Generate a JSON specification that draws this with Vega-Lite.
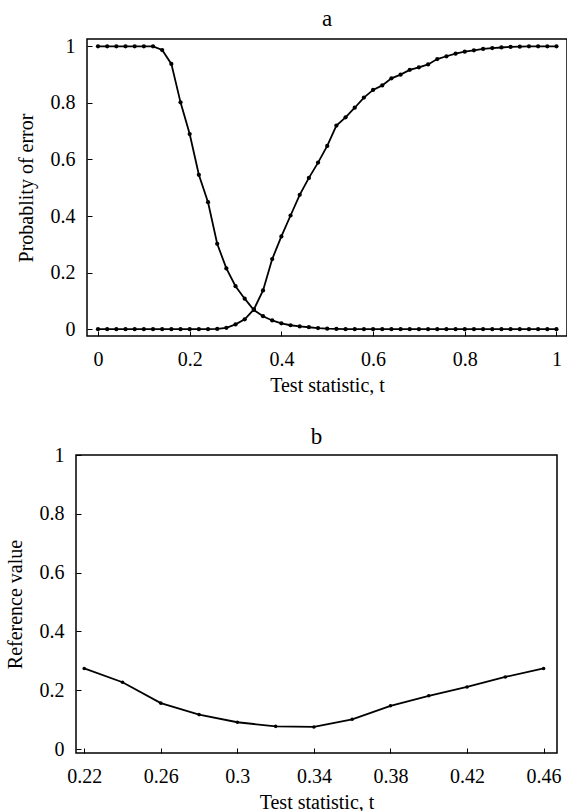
{
  "$schema": "https://vega.github.io/schema/vega-lite/v6.json",
  "background": "white",
  "padding": {"left": 0, "top": 7, "right": 0, "bottom": 0},
  "config": {
    "font": "Liberation Serif",
    "view": {"stroke": "black", "strokeWidth": 1.5},
    "axis": {
      "domain": false, "grid": false, "ticks": true, "tickSize": -5, "tickColor": "black", "tickWidth": 1,
      "labelFont": "Liberation Serif", "labelFontSize": 20, "labelColor": "black", "labelPadding": 17,
      "titleFont": "Liberation Serif", "titleFontSize": 20, "titleFontWeight": "normal", "titleColor": "black"
    },
    "title": {"font": "Liberation Serif", "fontSize": 23, "fontWeight": "normal", "color": "black", "anchor": "middle", "baseline": "alphabetic", "offset": 5}
  },
  "datasets": {
    "errors": [
      {"t": 0, "p": 1, "s": "I"}, {"t": 0.02, "p": 1, "s": "I"}, {"t": 0.04, "p": 1, "s": "I"}, {"t": 0.06, "p": 1, "s": "I"},
      {"t": 0.08, "p": 1, "s": "I"}, {"t": 0.1, "p": 1, "s": "I"}, {"t": 0.12, "p": 1, "s": "I"}, {"t": 0.14, "p": 0.987, "s": "I"},
      {"t": 0.16, "p": 0.938, "s": "I"}, {"t": 0.18, "p": 0.802, "s": "I"}, {"t": 0.2, "p": 0.69, "s": "I"}, {"t": 0.22, "p": 0.546, "s": "I"},
      {"t": 0.24, "p": 0.449, "s": "I"}, {"t": 0.26, "p": 0.302, "s": "I"}, {"t": 0.28, "p": 0.215, "s": "I"}, {"t": 0.3, "p": 0.152, "s": "I"},
      {"t": 0.32, "p": 0.108, "s": "I"}, {"t": 0.34, "p": 0.068, "s": "I"}, {"t": 0.36, "p": 0.046, "s": "I"}, {"t": 0.38, "p": 0.031, "s": "I"},
      {"t": 0.4, "p": 0.021, "s": "I"}, {"t": 0.42, "p": 0.014, "s": "I"}, {"t": 0.44, "p": 0.01, "s": "I"}, {"t": 0.46, "p": 0.007, "s": "I"},
      {"t": 0.48, "p": 0.004, "s": "I"}, {"t": 0.5, "p": 0.002, "s": "I"}, {"t": 0.52, "p": 0.001, "s": "I"}, {"t": 0.54, "p": 0, "s": "I"},
      {"t": 0.56, "p": 0, "s": "I"}, {"t": 0.58, "p": 0, "s": "I"}, {"t": 0.6, "p": 0, "s": "I"}, {"t": 0.62, "p": 0, "s": "I"},
      {"t": 0.64, "p": 0, "s": "I"}, {"t": 0.66, "p": 0, "s": "I"}, {"t": 0.68, "p": 0, "s": "I"}, {"t": 0.7, "p": 0, "s": "I"},
      {"t": 0.72, "p": 0, "s": "I"}, {"t": 0.74, "p": 0, "s": "I"}, {"t": 0.76, "p": 0, "s": "I"}, {"t": 0.78, "p": 0, "s": "I"},
      {"t": 0.8, "p": 0, "s": "I"}, {"t": 0.82, "p": 0, "s": "I"}, {"t": 0.84, "p": 0, "s": "I"}, {"t": 0.86, "p": 0, "s": "I"},
      {"t": 0.88, "p": 0, "s": "I"}, {"t": 0.9, "p": 0, "s": "I"}, {"t": 0.92, "p": 0, "s": "I"}, {"t": 0.94, "p": 0, "s": "I"},
      {"t": 0.96, "p": 0, "s": "I"}, {"t": 0.98, "p": 0, "s": "I"}, {"t": 1, "p": 0, "s": "I"},
      {"t": 0, "p": 0, "s": "II"}, {"t": 0.02, "p": 0, "s": "II"}, {"t": 0.04, "p": 0, "s": "II"}, {"t": 0.06, "p": 0, "s": "II"},
      {"t": 0.08, "p": 0, "s": "II"}, {"t": 0.1, "p": 0, "s": "II"}, {"t": 0.12, "p": 0, "s": "II"}, {"t": 0.14, "p": 0, "s": "II"},
      {"t": 0.16, "p": 0, "s": "II"}, {"t": 0.18, "p": 0, "s": "II"}, {"t": 0.2, "p": 0, "s": "II"}, {"t": 0.22, "p": 0, "s": "II"},
      {"t": 0.24, "p": 0, "s": "II"}, {"t": 0.26, "p": 0.001, "s": "II"}, {"t": 0.28, "p": 0.005, "s": "II"}, {"t": 0.3, "p": 0.017, "s": "II"},
      {"t": 0.32, "p": 0.035, "s": "II"}, {"t": 0.34, "p": 0.07, "s": "II"}, {"t": 0.36, "p": 0.137, "s": "II"}, {"t": 0.38, "p": 0.248, "s": "II"},
      {"t": 0.4, "p": 0.328, "s": "II"}, {"t": 0.42, "p": 0.402, "s": "II"}, {"t": 0.44, "p": 0.475, "s": "II"}, {"t": 0.46, "p": 0.535, "s": "II"},
      {"t": 0.48, "p": 0.589, "s": "II"}, {"t": 0.5, "p": 0.648, "s": "II"}, {"t": 0.52, "p": 0.72, "s": "II"}, {"t": 0.54, "p": 0.749, "s": "II"},
      {"t": 0.56, "p": 0.783, "s": "II"}, {"t": 0.58, "p": 0.819, "s": "II"}, {"t": 0.6, "p": 0.846, "s": "II"}, {"t": 0.62, "p": 0.862, "s": "II"},
      {"t": 0.64, "p": 0.887, "s": "II"}, {"t": 0.66, "p": 0.9, "s": "II"}, {"t": 0.68, "p": 0.917, "s": "II"}, {"t": 0.7, "p": 0.926, "s": "II"},
      {"t": 0.72, "p": 0.936, "s": "II"}, {"t": 0.74, "p": 0.955, "s": "II"}, {"t": 0.76, "p": 0.965, "s": "II"}, {"t": 0.78, "p": 0.974, "s": "II"},
      {"t": 0.8, "p": 0.981, "s": "II"}, {"t": 0.82, "p": 0.986, "s": "II"}, {"t": 0.84, "p": 0.991, "s": "II"}, {"t": 0.86, "p": 0.994, "s": "II"},
      {"t": 0.88, "p": 0.996, "s": "II"}, {"t": 0.9, "p": 0.998, "s": "II"}, {"t": 0.92, "p": 0.999, "s": "II"}, {"t": 0.94, "p": 1, "s": "II"},
      {"t": 0.96, "p": 1, "s": "II"}, {"t": 0.98, "p": 1, "s": "II"}, {"t": 1, "p": 1, "s": "II"}
    ],
    "reference": [
      {"t": 0.22, "r": 0.274}, {"t": 0.24, "r": 0.227}, {"t": 0.26, "r": 0.156}, {"t": 0.28, "r": 0.117},
      {"t": 0.3, "r": 0.091}, {"t": 0.32, "r": 0.077}, {"t": 0.34, "r": 0.075}, {"t": 0.36, "r": 0.101},
      {"t": 0.38, "r": 0.147}, {"t": 0.4, "r": 0.181}, {"t": 0.42, "r": 0.211}, {"t": 0.44, "r": 0.245},
      {"t": 0.46, "r": 0.274}
    ]
  },
  "spacing": 29,
  "vconcat": [
    {
      "spacing": 0,
      "hconcat": [
        {
          "width": 15, "height": 1,
          "view": {"stroke": null, "fill": "white"},
          "data": {"values": []},
          "mark": "point",
          "encoding": {}
        },
        {
          "title": "a",
          "width": 480, "height": 297,
          "data": {"name": "errors"},
          "mark": {"type": "line", "color": "black", "strokeWidth": 1.8, "point": {"filled": true, "color": "black", "size": 18}},
          "encoding": {
            "x": {"field": "t", "type": "quantitative",
                  "scale": {"domain": [-0.024, 1.023], "nice": false, "zero": false},
                  "axis": {"title": "Test statistic, t", "values": [0, 0.2, 0.4, 0.6, 0.8, 1], "format": "~g", "labelPadding": 18, "titlePadding": 6}},
            "y": {"field": "p", "type": "quantitative",
                  "scale": {"domain": [-0.024, 1.026], "nice": false, "zero": false},
                  "axis": {"title": "Probablity of error", "values": [0, 0.2, 0.4, 0.6, 0.8, 1], "format": "~g", "titlePadding": 14}},
            "detail": {"field": "s"}
          }
        }
      ]
    },
    {
      "spacing": 0,
      "hconcat": [
        {
          "width": 4, "height": 1,
          "view": {"stroke": null, "fill": "white"},
          "data": {"values": []},
          "mark": "point",
          "encoding": {}
        },
        {
          "title": {"text": "b", "offset": -4},
          "width": 481, "height": 298,
          "data": {"name": "reference"},
          "mark": {"type": "line", "color": "black", "strokeWidth": 1.8, "point": {"filled": true, "color": "black", "size": 13}},
          "encoding": {
            "x": {"field": "t", "type": "quantitative",
                  "scale": {"domain": [0.2157, 0.467], "nice": false, "zero": false},
                  "axis": {"title": "Test statistic, t", "values": [0.22, 0.26, 0.3, 0.34, 0.38, 0.42, 0.46], "format": "~g", "labelPadding": 18, "titlePadding": 6}},
            "y": {"field": "r", "type": "quantitative",
                  "scale": {"domain": [-0.0136, 1], "nice": false, "zero": false},
                  "axis": {"title": "Reference value", "values": [0, 0.2, 0.4, 0.6, 0.8, 1], "format": "~g", "titlePadding": 14}}
          }
        }
      ]
    }
  ]
}
